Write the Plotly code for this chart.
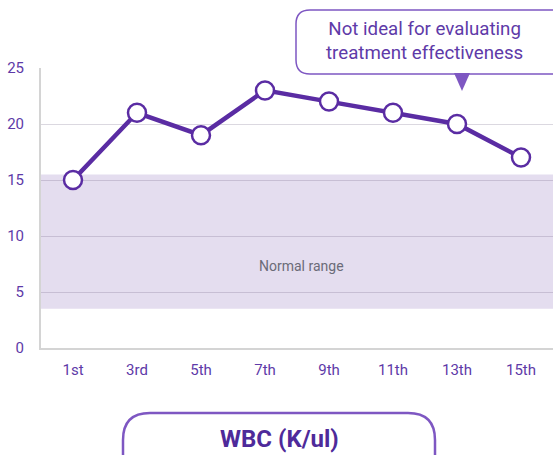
import plotly.graph_objects as go

days = ["1st", "3rd", "5th", "7th", "9th", "11th", "13th", "15th"]
wbc = [15, 21, 19, 23, 22, 21, 20, 17]
normal_low, normal_high = 3.5, 15.5
y_ticks = [0, 5, 10, 15, 20, 25]
callout_text = "Not ideal for evaluating<br>treatment effectiveness"
band_label = "Normal range"
title_text = "WBC (K/ul)"

W, H = 553, 455
L, R, T, B = 41, 0, 68, 107
PW, PH = W - L - R, H - T - B

LINE = "#5a2ca3"
TEXT = "#5e3aa8"
BORDER = "#7e57c2"
FONT = "Roboto, Noto Sans, sans-serif"


def px(x):
    return (x - L) / PW


def py(y):
    return (H - B - y) / PH


def rrect(x0, y0, x1, y1, r):
    return (f"M {px(x0 + r)} {py(y0)} L {px(x1 - r)} {py(y0)} "
            f"Q {px(x1)} {py(y0)} {px(x1)} {py(y0 + r)} "
            f"L {px(x1)} {py(y1 - r)} Q {px(x1)} {py(y1)} {px(x1 - r)} {py(y1)} "
            f"L {px(x0 + r)} {py(y1)} Q {px(x0)} {py(y1)} {px(x0)} {py(y1 - r)} "
            f"L {px(x0)} {py(y0 + r)} Q {px(x0)} {py(y0)} {px(x0 + r)} {py(y0)} Z")


fig = go.Figure()
fig.add_trace(go.Scatter(
    x=days, y=wbc, mode="lines+markers",
    line=dict(color=LINE, width=4.5),
    marker=dict(size=18, color="white", line=dict(color=LINE, width=2.5)),
    hoverinfo="skip", cliponaxis=False,
))

shapes = [
    dict(type="rect", xref="paper", yref="y", x0=0, x1=1, y0=normal_low, y1=normal_high,
         fillcolor="#e4ddef", line=dict(width=0), layer="below"),
    dict(type="path", xref="paper", yref="paper", path=rrect(296, 10, 575, 74, 14),
         fillcolor="white", line=dict(color=BORDER, width=1.5), layer="above"),
    dict(type="path", xref="paper", yref="paper",
         path=f"M {px(454)} {py(73)} L {px(470)} {py(73)} L {px(462)} {py(91)} Z",
         fillcolor=BORDER, line=dict(width=0), layer="above"),
    dict(type="path", xref="paper", yref="paper", path=rrect(123, 413, 435, 490, 27),
         fillcolor="white", line=dict(color=BORDER, width=2.5), layer="above"),
]

annotations = [
    dict(text=callout_text, xref="paper", yref="paper", x=px(424), y=py(41),
         xanchor="center", yanchor="middle", showarrow=False,
         font=dict(family=FONT, size=18.7, color=TEXT)),
    dict(text=band_label, xref="paper", yref="y", x=px(301), y=7.3,
         xanchor="center", yanchor="middle", showarrow=False,
         font=dict(family=FONT, size=14, color="#6b6b78")),
    dict(text=f"<b>{title_text}</b>", xref="paper", yref="paper", x=px(279), y=py(439),
         xanchor="center", yanchor="middle", showarrow=False,
         font=dict(family=FONT, size=24, color="#4e2a9a")),
]

fig.update_layout(
    width=W, height=H,
    margin=dict(l=L, r=R, t=T, b=B, autoexpand=False),
    paper_bgcolor="white", plot_bgcolor="rgba(0,0,0,0)",
    showlegend=False,
    shapes=shapes, annotations=annotations,
    font=dict(family=FONT, color=TEXT),
    xaxis=dict(type="category", range=[-0.5, 7.5], showgrid=False, showline=True,
               linecolor="#d4d4d4", linewidth=2, ticks="", ticklabelstandoff=7,
               tickfont=dict(size=15, color=TEXT), fixedrange=True),
    yaxis=dict(range=[0, 25], tickvals=y_ticks, showgrid=True,
               gridcolor="rgba(110,100,130,0.25)", gridwidth=1,
               showline=True, linecolor="#d4d4d4", linewidth=2, zeroline=False,
               ticks="", ticklabelstandoff=12, tickfont=dict(size=15, color=TEXT),
               fixedrange=True),
)

fig.write_html("out.html", config={"displayModeBar": False},
               post_script="document.body.style.margin='0';document.body.style.overflow='hidden';")
